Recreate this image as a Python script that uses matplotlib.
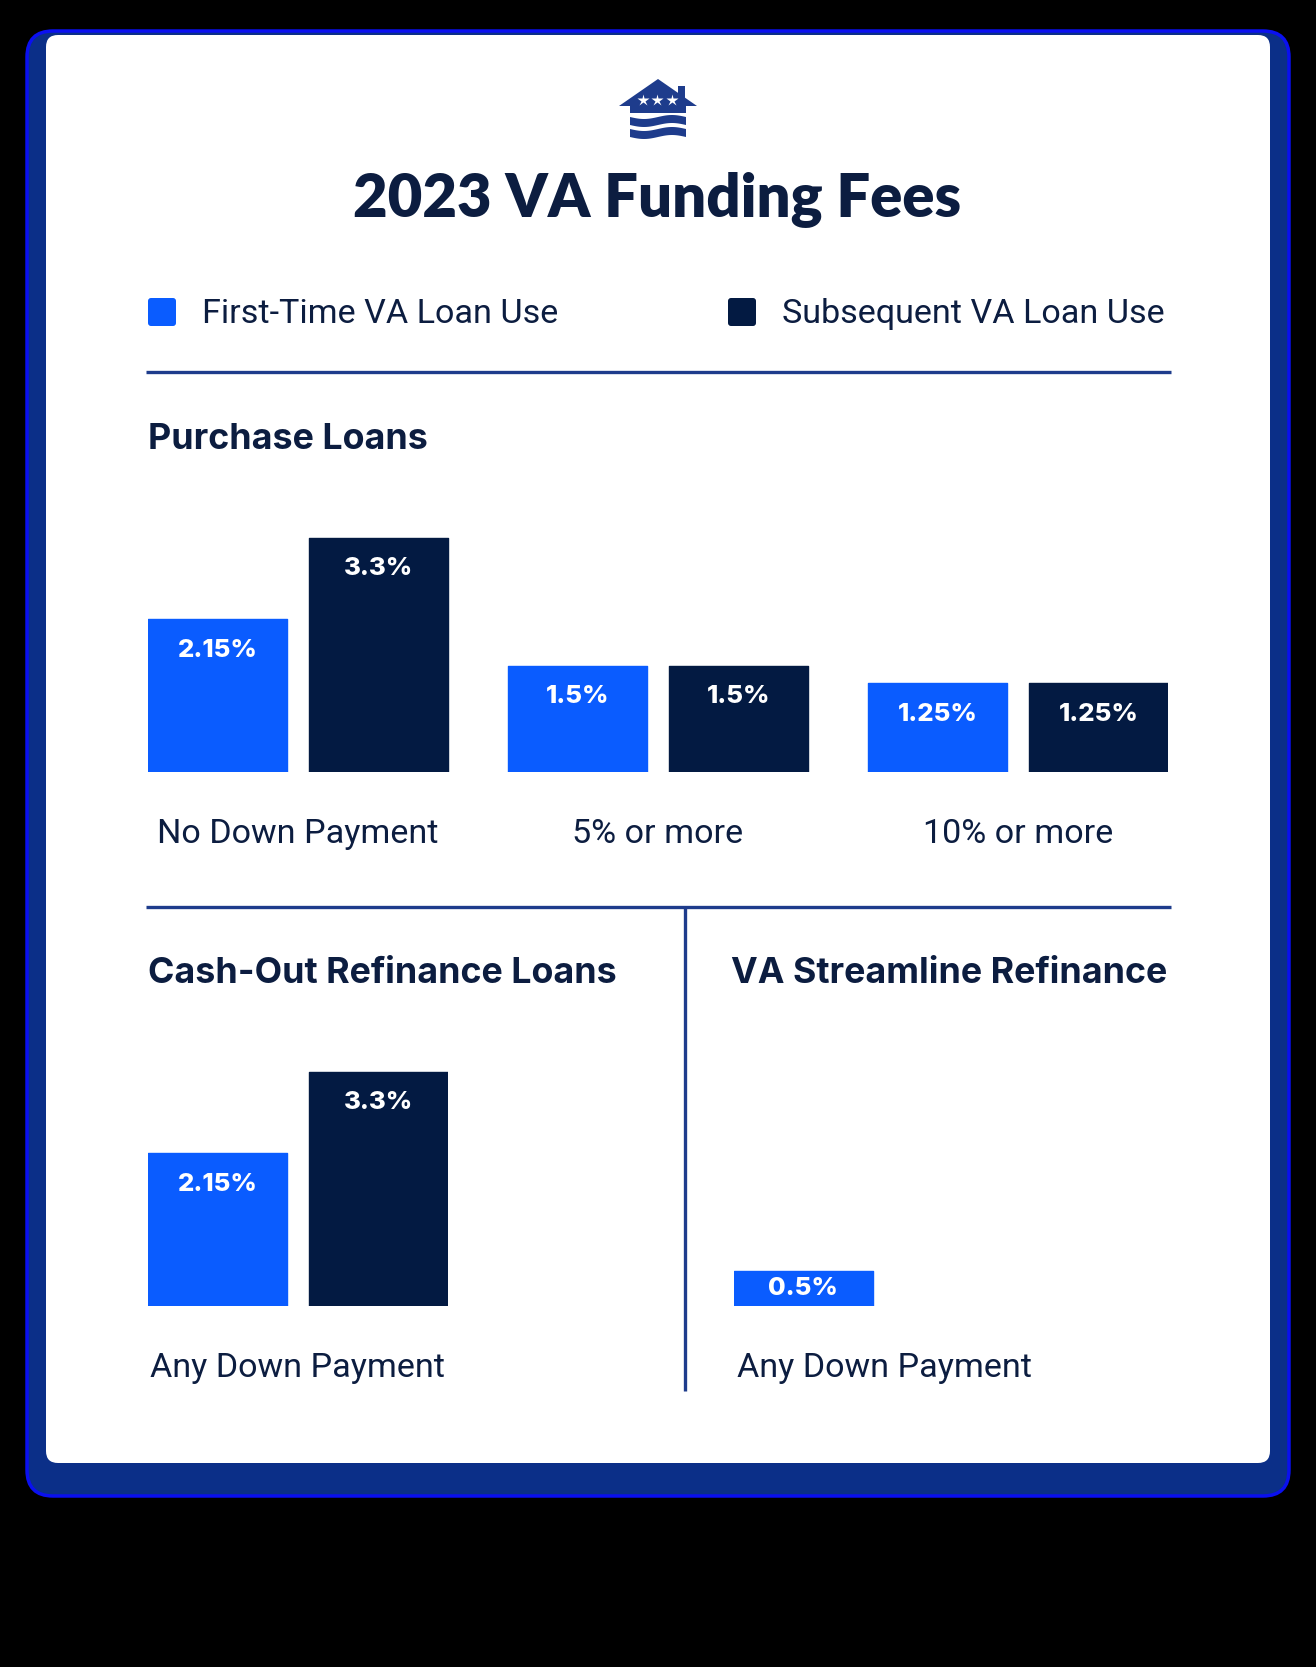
import numpy as np
import matplotlib
matplotlib.use("Agg")
import matplotlib.pyplot as plt
from matplotlib.patches import FancyBboxPatch, Polygon, Rectangle

# data
series = ["First-Time VA Loan Use", "Subsequent VA Loan Use"]
purchase_cats = ["No Down Payment", "5% or more", "10% or more"]
purchase_first = [2.15, 1.5, 1.25]
purchase_subseq = [3.3, 1.5, 1.25]
cashout_cats = ["Any Down Payment"]
cashout_first = [2.15]
cashout_subseq = [3.3]
streamline_cats = ["Any Down Payment"]
streamline_first = [0.5]

BLUE = "#0a5cff"
NAVY = "#031a42"
TEXT = "#0c1d40"
LINE = "#1e3c8c"

W, H = 1316, 1667
fig = plt.figure(figsize=(W / 100, H / 100), dpi=100, facecolor="black")

bg = fig.add_axes([0, 0, 1, 1])
bg.set_xlim(0, W)
bg.set_ylim(H, 0)
bg.axis("off")
bg.set_facecolor("black")

# card with blue shadow
bg.add_patch(FancyBboxPatch((27, 31), 1262, 1465, boxstyle="round,pad=0,rounding_size=26",
                            fc="#0b2f88", ec="#0a10f0", lw=2.5))
bg.add_patch(FancyBboxPatch((46, 35), 1224, 1428, boxstyle="round,pad=0,rounding_size=12",
                            fc="white", ec="none"))

# logo
bg.add_patch(Polygon([(619, 106), (658, 79), (697, 106)], closed=True, fc=LINE, ec="none"))
bg.add_patch(Rectangle((678, 86), 7, 12, fc=LINE, ec="none"))
bg.add_patch(Rectangle((630, 104), 56, 9, fc=LINE, ec="none"))
xx = np.linspace(630, 686, 60)
for top in (117, 129):
    wv = 2.0 * np.sin((xx - 630) / 56 * 2 * np.pi)
    pts = list(zip(xx, top + wv)) + list(zip(xx[::-1], top + 8 + wv[::-1]))
    bg.add_patch(Polygon(pts, closed=True, fc=LINE, ec="none"))
bg.plot([643, 657, 672], [100, 100, 100], ls="none", marker="*", ms=9, color="white", mec="none")

# title
bg.text(657, 199, "2023 VA Funding Fees", ha="center", va="center", fontsize=43,
        fontweight="heavy", family="Lato", color=TEXT)

# legend
bg.add_patch(FancyBboxPatch((148, 298), 28, 28, boxstyle="round,pad=0,rounding_size=3", fc=BLUE, ec="none"))
bg.add_patch(FancyBboxPatch((728, 298), 28, 28, boxstyle="round,pad=0,rounding_size=3", fc=NAVY, ec="none"))
bg.text(202, 314, series[0], ha="left", va="center", fontsize=24.6, family="Roboto", color=TEXT)
bg.text(782, 314, series[1], ha="left", va="center", fontsize=24.6, family="Roboto", color=TEXT)

# rules
bg.plot([146, 1171], [372, 372], color=LINE, lw=2.4, solid_capstyle="butt")
bg.plot([146, 1171], [907, 907], color=LINE, lw=2.4, solid_capstyle="butt")
bg.plot([685, 685], [907, 1391], color=LINE, lw=2.4, solid_capstyle="butt")

# headings
head = dict(ha="left", va="center", fontsize=25.8, fontweight="bold", family="Inter", color=TEXT)
bg.text(148, 439, "Purchase Loans", **head)
bg.text(148, 973, "Cash-Out Refinance Loans", **head)
bg.text(731, 973, "VA Streamline Refinance", **head)

PX = 71.0      # pixels per percent
UNIT = 360.0   # pixels per group
OFF = 0.224
BW = 139 / UNIT


def bar_axes(left_px, bottom_px, ngroups):
    width_px = ngroups * UNIT - 60
    top = 3.5
    ax = fig.add_axes([left_px / W, (H - bottom_px) / H, width_px / W, top * PX / H])
    ax.set_xlim(-150 / UNIT, ngroups - 1 + 150 / UNIT)
    ax.set_ylim(0, top)
    ax.axis("off")
    ax.patch.set_alpha(0)
    return ax


def draw(ax, cats, first, subseq=None):
    x = np.arange(len(cats))
    bars = [(ax.bar(x - OFF, first, BW, color=BLUE, ec=BLUE, lw=1, joinstyle="round"), first)]
    if subseq is not None:
        bars.append((ax.bar(x + OFF, subseq, BW, color=NAVY, ec=NAVY, lw=1, joinstyle="round"), subseq))
    for cont, vals in bars:
        for rect, v in zip(cont, vals):
            cx = rect.get_x() + rect.get_width() / 2
            lab = f"{v:g}%"
            yy = v / 2 if v * PX < 60 else v - 31 / PX
            ax.text(cx, yy, lab, ha="center", va="center", color="white",
                    fontsize=18.5, fontweight="heavy", family="Inter")
    for xi, c in zip(x, cats):
        ax.text(xi, -62 / PX, c, ha="center", va="center", fontsize=24.6, family="Roboto", color=TEXT)


ax1 = bar_axes(148, 772, 3)
draw(ax1, purchase_cats, purchase_first, purchase_subseq)
ax2 = bar_axes(148, 1306, 1)
draw(ax2, cashout_cats, cashout_first, cashout_subseq)
ax3 = bar_axes(734, 1306, 1)
draw(ax3, streamline_cats, streamline_first)

fig.savefig("out.png", dpi=100, facecolor="black")
